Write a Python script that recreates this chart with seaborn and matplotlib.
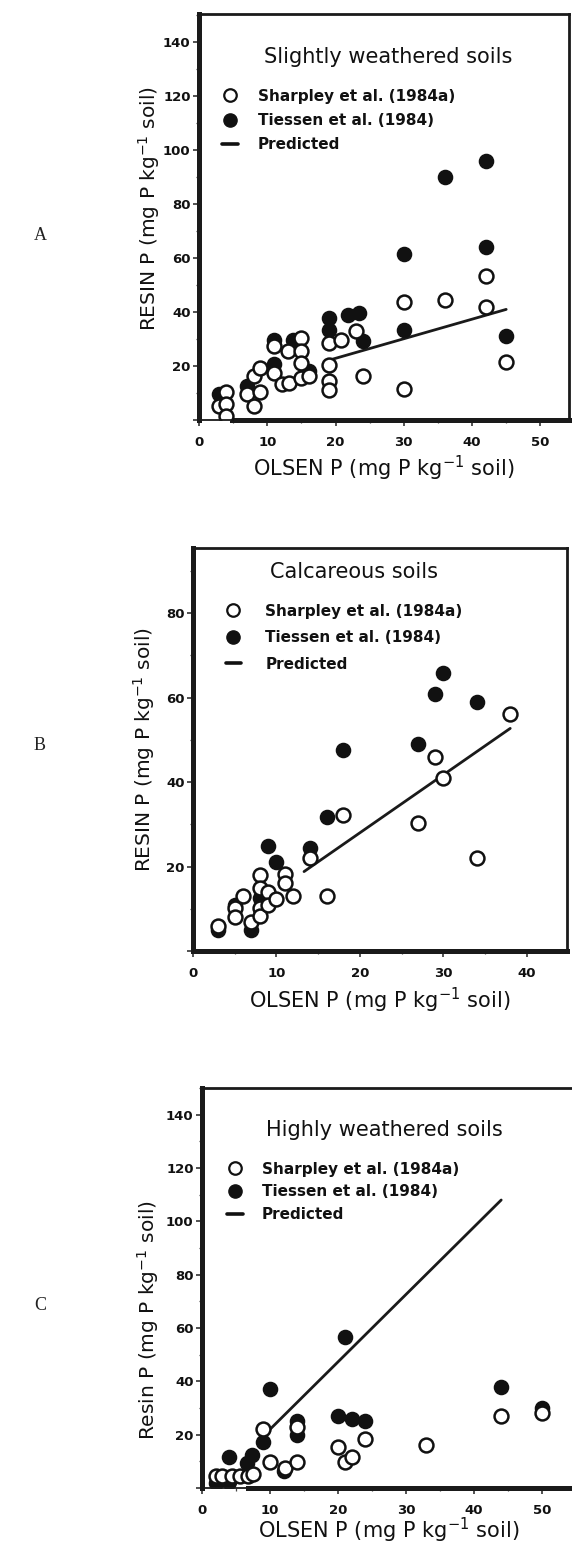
import matplotlib
matplotlib.use("Agg")
import matplotlib.pyplot as plt
from matplotlib.lines import Line2D
from matplotlib.ticker import MultipleLocator
import pandas as pd
import seaborn as sns

# ---------------- data ----------------
# A: slightly weathered soils
a_sharpley_x = [3, 4, 4, 4, 7, 8, 8, 9, 9, 11, 11, 12.2, 13.2, 13, 14.9, 14.9, 14.9, 14.9, 16.1,
                19, 19, 19, 19, 20.8, 23, 24, 30, 30, 36, 42, 42, 45]
a_sharpley_y = [5.2, 10.5, 5.8, 1.5, 9.6, 5.3, 16.2, 19.2, 10.2, 27.3, 17.5, 13.2, 13.6, 25.5, 30.4,
                25.5, 21.2, 15.6, 16.3, 28.5, 20.5, 14.5, 11.2, 29.8, 32.9, 16.3, 43.6, 11.6, 44.6,
                53.5, 42, 21.4]
a_tiessen_x = [3, 7, 11, 11, 13.7, 16.1, 19, 19, 21.8, 23.5, 24, 30, 30, 36, 42, 42, 45]
a_tiessen_y = [9.8, 12.5, 20.6, 29.5, 29.8, 18.1, 33.5, 37.8, 39, 39.6, 29.2, 61.5, 33.5, 90, 96,
               64, 31]
a_pred_x = [19.5, 45]
a_pred_y = [22.5, 41]

# B: calcareous soils
b_sharpley_x = [3, 5, 5, 6, 7, 8, 8, 8, 8, 9, 9, 10, 11, 11, 12, 14, 16, 18, 27, 29, 30, 34, 38]
b_sharpley_y = [6, 10.2, 8, 13, 6.9, 18.1, 15, 10.1, 8.2, 13.9, 11, 12.2, 18.2, 16.1, 13,
                22, 13, 32.3, 30.3, 46, 41, 22, 56]
b_tiessen_x = [3, 5, 7, 8, 9, 10, 14, 16, 18, 27, 29, 30, 34]
b_tiessen_y = [5, 11, 5, 12.6, 24.9, 21, 24.3, 31.8, 47.5, 48.9, 60.9, 65.8, 58.9]
b_pred_x = [13.3, 38]
b_pred_y = [18.8, 52.7]

# C: highly weathered soils
c_sharpley_x = [2, 3, 4.4, 5.6, 6.8, 7.5, 9, 10, 12.2, 14, 14, 20, 21, 22, 24, 33, 44, 50]
c_sharpley_y = [4.6, 4.6, 4.6, 4.6, 4.4, 5.2, 22, 9.8, 7.5, 9.8, 22.8, 15.3, 9.6, 11.6, 18.4,
                16.2, 27, 28]
c_tiessen_x = [2, 4, 4, 6.6, 7.3, 9, 10, 12, 14, 14, 20, 22, 24, 21, 44, 50]
c_tiessen_y = [1.7, 2.4, 11.8, 9.2, 12.4, 17.4, 37, 6.5, 25.3, 19.8, 27, 26, 25, 56.5, 38, 30]
c_pred_x = [10, 44]
c_pred_y = [22, 108]

legend_labels = ["Sharpley et al. (1984a)", "Tiessen et al. (1984)", "Predicted"]
titles = ["Slightly weathered soils", "Calcareous soils", "Highly weathered soils"]
panel_letters = ["A", "B", "C"]
ylabels = [r"RESIN P (mg P kg$^{-1}$ soil)", r"RESIN P (mg P kg$^{-1}$ soil)",
           r"Resin P (mg P kg$^{-1}$ soil)"]
xlabel = r"OLSEN P (mg P kg$^{-1}$ soil)"

# ---------------- style ----------------
sns.set_theme(style="ticks")
plt.rcParams["font.family"] = ["DejaVu Sans"]
plt.rcParams["mathtext.fontset"] = "dejavusans"

W, H = 572, 1547
fig = plt.figure(figsize=(W / 100, H / 100), dpi=100)
fig.patch.set_facecolor("white")


def px_rect(l, t, r, b):
    return [l / W, 1 - b / H, (r - l) / W, (b - t) / H]


panels = [
    dict(rect=px_rect(199, 14, 569, 420), xlim=(0, 54.2), ylim=(0, 150.5), ymaj=20,
         sx=a_sharpley_x, sy=a_sharpley_y, tx=a_tiessen_x, ty=a_tiessen_y,
         px=a_pred_x, py=a_pred_y, thick_from=4.9, right=True,
         title_xy=(0.511, 0.894), leg_xy=(0.0635, 0.8165), leg_pad=1.3, leg_sp=0.62,
         ylab_xy=(-0.1, 0.52), xlab_y=-0.083, letter_y=235),
    dict(rect=px_rect(193, 548, 567, 951), xlim=(0, 44.8), ylim=(0, 95.4), ymaj=20,
         sx=b_sharpley_x, sy=b_sharpley_y, tx=b_tiessen_x, ty=b_tiessen_y,
         px=b_pred_x, py=b_pred_y, thick_from=None, right=True,
         title_xy=(0.43, 0.94), leg_xy=(0.087, 0.862), leg_pad=1.6, leg_sp=0.75,
         ylab_xy=(-0.097, 0.5), xlab_y=-0.087, letter_y=745),
    dict(rect=px_rect(202, 1088, 576, 1488), xlim=(0, 55), ylim=(0, 150), ymaj=20,
         sx=c_sharpley_x, sy=c_sharpley_y, tx=c_tiessen_x, ty=c_tiessen_y,
         px=c_pred_x, py=c_pred_y, thick_from=6.8, right=False,
         title_xy=(0.487, 0.895), leg_xy=(0.068, 0.816), leg_pad=1.25, leg_sp=0.5,
         ylab_xy=(-0.11, 0.42), xlab_y=-0.07, letter_y=1305),
]

for i, p in enumerate(panels):
    ax = fig.add_axes(p["rect"])
    ax.set_facecolor("white")

    pred = pd.DataFrame({"olsen": p["px"], "resin": p["py"]})
    tiessen = pd.DataFrame({"olsen": p["tx"], "resin": p["ty"]})
    sharpley = pd.DataFrame({"olsen": p["sx"], "resin": p["sy"]})

    sns.lineplot(data=pred, x="olsen", y="resin", ax=ax, color="#1a1a1a",
                 linewidth=2.0, zorder=1, legend=False)
    sns.scatterplot(data=tiessen, x="olsen", y="resin", ax=ax, marker="o", s=100,
                    color="#111111", edgecolor="#111111", linewidth=1.2, zorder=2,
                    legend=False)
    sns.scatterplot(data=sharpley, x="olsen", y="resin", ax=ax, marker="o", s=100,
                    facecolor="white", edgecolor="#111111", linewidth=1.8, zorder=3,
                    legend=False)

    ax.set_xlim(*p["xlim"])
    ax.set_ylim(*p["ylim"])
    ax.xaxis.set_major_locator(MultipleLocator(10))
    ax.xaxis.set_minor_locator(MultipleLocator(5))
    ax.yaxis.set_major_locator(MultipleLocator(p["ymaj"]))
    ax.yaxis.set_minor_locator(MultipleLocator(10))
    ax.yaxis.set_major_formatter(lambda v, pos: "" if v == 0 else f"{v:.0f}")
    ax.xaxis.set_major_formatter(lambda v, pos: f"{v:.0f}")

    ax.tick_params(axis="both", which="major", direction="out", length=4.5, width=1.1,
                   color="#222222", labelsize=9.5, labelcolor="#111111")
    ax.tick_params(axis="both", which="minor", direction="out", length=2.2, width=0.9,
                   color="#444444")
    ax.tick_params(axis="y", which="major", pad=1.5)
    ax.tick_params(axis="x", which="major", pad=7)
    for lab in ax.get_xticklabels() + ax.get_yticklabels():
        lab.set_fontweight("bold")

    for side in ["left", "right", "top", "bottom"]:
        ax.spines[side].set_color("#1a1a1a")
    ax.spines["left"].set_linewidth(3.6)
    ax.spines["bottom"].set_linewidth(3.6)
    ax.spines["top"].set_linewidth(2.0)
    ax.spines["right"].set_linewidth(2.0)
    ax.spines["right"].set_visible(p["right"])
    if p["thick_from"] is not None:
        ax.spines["bottom"].set_bounds(p["thick_from"], p["xlim"][1])
        ax.axhline(0, xmin=0, xmax=p["thick_from"] / p["xlim"][1], color="#1a1a1a",
                   linewidth=1.3, clip_on=False, zorder=4)

    ax.set_xlabel(xlabel, fontsize=15, color="#111111")
    ax.set_ylabel(ylabels[i], fontsize=14.5, color="#111111")
    ax.xaxis.set_label_coords(0.5, p["xlab_y"])
    ax.yaxis.set_label_coords(*p["ylab_xy"])

    ax.text(p["title_xy"][0], p["title_xy"][1], titles[i], transform=ax.transAxes,
            ha="center", va="center", fontsize=15, color="#111111")

    handles = [
        Line2D([], [], linestyle="none", marker="o", markersize=9, markerfacecolor="white",
               markeredgecolor="#111111", markeredgewidth=1.6),
        Line2D([], [], linestyle="none", marker="o", markersize=9.5,
               markerfacecolor="#111111", markeredgecolor="#111111"),
        Line2D([], [], color="#111111", linewidth=2.6),
    ]
    ax.legend(handles, legend_labels, loc="upper left", bbox_to_anchor=p["leg_xy"],
              frameon=False, prop=dict(weight="bold", size=11), handlelength=1.0,
              handletextpad=p["leg_pad"], labelspacing=p["leg_sp"], borderpad=0,
              borderaxespad=0, labelcolor="#111111")

    fig.text(40 / W, 1 - p["letter_y"] / H, panel_letters[i], ha="center", va="center",
             fontsize=13, family="Liberation Serif", color="#222222")

fig.savefig("out.png", dpi=100, facecolor="white")
